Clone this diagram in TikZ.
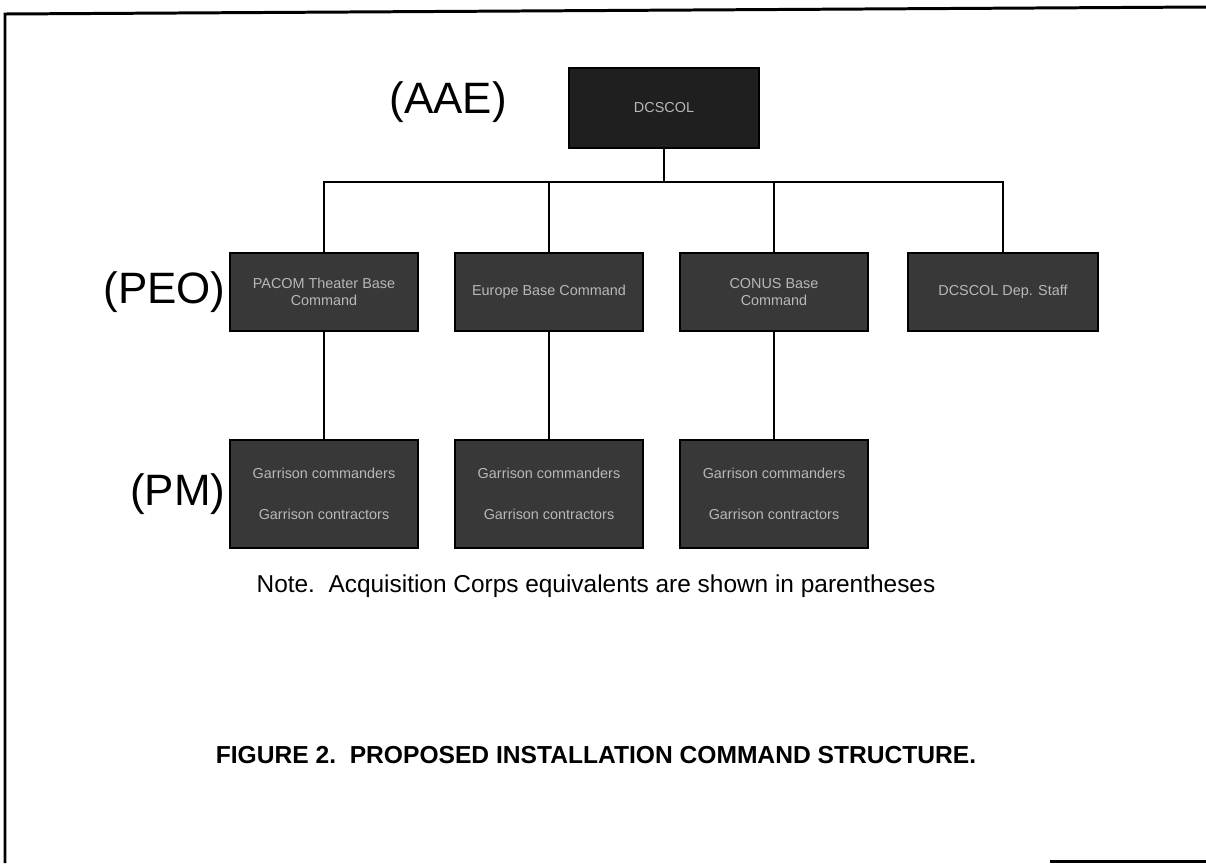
\documentclass[tikz,border=0pt]{standalone}
\usepackage{fontspec}
\setmainfont{Liberation Sans}
\usetikzlibrary{positioning, calc}
\tikzset{
    orgbox/.style={rectangle, draw=black, line width=0.8pt, fill=black!78, text=black!28,
        minimum width=3.76cm, minimum height=1.56cm, inner sep=2pt, align=center,
        font=\fontsize{8.2}{10}\selectfont},
    topbox/.style={orgbox, fill=black!88, minimum width=3.8cm, minimum height=1.6cm},
    pmbox/.style={orgbox, minimum height=2.16cm},
    levellabel/.style={font=\fontsize{25}{30}\selectfont, inner sep=0pt},
    link/.style={line width=0.8pt},
    frame/.style={line width=1.7pt}
}
\begin{document}
\begin{tikzpicture}[x=0.02cm, y=-0.02cm]
  \useasboundingbox (0,0) rectangle (1206,863);
  % outer frame
  \draw[frame] (5,863) -- (5,14) -- (1206,7);
  \draw[frame] (1050,861) -- (1206,861);
  % boxes
  \node[topbox] (dcs) at (664,108) {DCSCOL};
  \node[orgbox] (peo1) at (324,292) {PACOM Theater Base\\Command};
  \node[orgbox] (peo2) at (549,292) {Europe Base Command};
  \node[orgbox] (peo3) at (774,292) {CONUS Base\\Command};
  \node[orgbox, minimum width=3.8cm] (peo4) at (1003,292) {DCSCOL Dep. Staff};
  \node[pmbox] (pm1) at (324,494) {Garrison commanders\\[13pt]Garrison contractors};
  \node[pmbox] (pm2) at (549,494) {Garrison commanders\\[13pt]Garrison contractors};
  \node[pmbox] (pm3) at (774,494) {Garrison commanders\\[13pt]Garrison contractors};
  % level labels
  \node[levellabel, anchor=east] (aae) at (507,102) {(AAE)};
  \node[levellabel, anchor=east] (peo) at ([xshift=-2pt]peo1.west) {(PEO)};
  \node[levellabel, anchor=east] (pm) at ([xshift=-2pt]pm1.west) {(PM)};
  % connectors
  \coordinate (bus) at (664,182);
  \draw[link] (dcs.south) -- (bus);
  \draw[link] (peo1.north) |- (bus) -| (peo4.north);
  \draw[link] (bus -| peo2.north) -- (peo2.north);
  \draw[link] (bus -| peo3.north) -- (peo3.north);
  \draw[link] (peo1) -- (pm1);
  \draw[link] (peo2) -- (pm2);
  \draw[link] (peo3) -- (pm3);
  % notes
  \node[font=\fontsize{13.9}{16}\selectfont] (note) at (596,586)
    {Note.\ \ Acquisition Corps equivalents are shown in parentheses};
  \node[font=\fontsize{14}{16}\selectfont\bfseries] (caption) at (596,755)
    {FIGURE 2.\ \ PROPOSED INSTALLATION COMMAND STRUCTURE.};
\end{tikzpicture}
\end{document}
